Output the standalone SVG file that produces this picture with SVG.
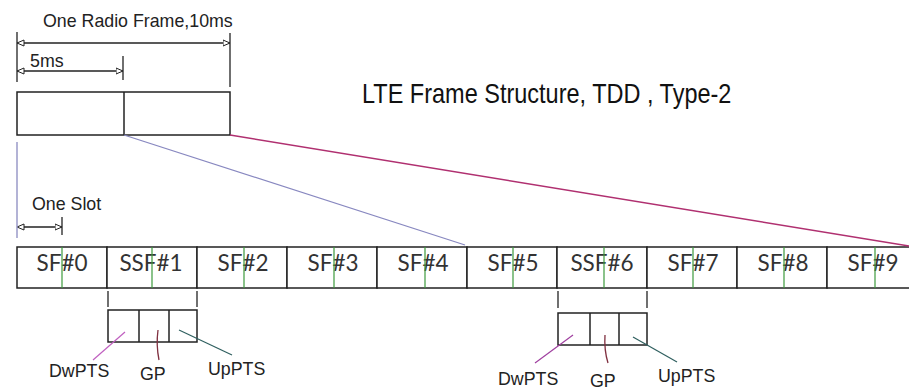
<svg xmlns="http://www.w3.org/2000/svg" width="909" height="390" viewBox="0 0 909 390">
<defs>
<marker id="ah" viewBox="0 0 8 8" refX="7.5" refY="4" markerWidth="8" markerHeight="8" markerUnits="userSpaceOnUse" orient="auto-start-reverse">
<path d="M0.5,1 L7.5,4 L0.5,7 Z" fill="#fff" stroke="#222" stroke-width="1"/>
</marker>
</defs>
<style>
.box{fill:#fff;stroke:#222;stroke-width:1.5}
.ln{stroke:#222;stroke-width:1.5;fill:none}
.tick{stroke:#222;stroke-width:1.3}
.dim{stroke:#222;stroke-width:1.3;marker-start:url(#ah);marker-end:url(#ah)}
.grn{stroke:#3d9a3d;stroke-width:1.2}
.sf{font-family:Lato,"Noto Sans",sans-serif;font-size:22.5px;fill:#333;text-anchor:middle}
.lbl{font-family:"Liberation Sans",Arial,sans-serif;font-size:17.8px;fill:#222}
.title{font-family:"Liberation Sans",Arial,sans-serif;font-size:23.5px;fill:#111}
</style>
<rect width="909" height="390" fill="#fff"/>

<g id="title"><text class="title" x="362" y="0" transform="translate(0,103) scale(1,1.15)">LTE Frame Structure, TDD , Type-2</text></g>

<g id="radio-frame">
<rect class="box" x="17" y="92" width="213" height="43"/>
<line class="ln" x1="124" y1="92" x2="124" y2="135"/>
</g>

<g id="dim-10ms">
<line class="tick" x1="17" y1="32" x2="17" y2="82"/>
<line class="tick" x1="230" y1="33" x2="230" y2="87"/>
<line class="dim" x1="17" y1="43" x2="230" y2="43"/>
<text class="lbl" x="43" y="27">One Radio Frame,10ms</text>
</g>

<g id="dim-5ms">
<line class="tick" x1="123" y1="56" x2="123" y2="80"/>
<line class="dim" x1="17" y1="71" x2="123" y2="71"/>
<text class="lbl" x="30" y="67">5ms</text>
</g>

<g id="dim-slot">
<line class="tick" x1="62" y1="217" x2="62" y2="235"/>
<line class="dim" x1="17" y1="227" x2="62" y2="227"/>
<text class="lbl" x="32" y="210">One Slot</text>
</g>

<g id="subframes">
<g id="sf0"><rect class="box" x="17" y="247" width="90" height="41"/><text class="sf" x="62" y="271">SF#0</text><line class="grn" x1="62" y1="247" x2="62" y2="288"/></g>
<g id="sf1"><rect class="box" x="107" y="247" width="90" height="41"/><text class="sf" x="151" y="271">SSF#1</text><line class="grn" x1="152" y1="247" x2="152" y2="288"/></g>
<g id="sf2"><rect class="box" x="197" y="247" width="90" height="41"/><text class="sf" x="243" y="271">SF#2</text><line class="grn" x1="244" y1="247" x2="244" y2="288"/></g>
<g id="sf3"><rect class="box" x="287" y="247" width="90" height="41"/><text class="sf" x="333" y="271">SF#3</text><line class="grn" x1="334" y1="247" x2="334" y2="288"/></g>
<g id="sf4"><rect class="box" x="377" y="247" width="90" height="41"/><text class="sf" x="423" y="271">SF#4</text><line class="grn" x1="425" y1="247" x2="425" y2="288"/></g>
<g id="sf5"><rect class="box" x="467" y="247" width="90" height="41"/><text class="sf" x="513" y="271">SF#5</text><line class="grn" x1="513" y1="247" x2="513" y2="288"/></g>
<g id="sf6"><rect class="box" x="557" y="247" width="90" height="41"/><text class="sf" x="602" y="271">SSF#6</text><line class="grn" x1="604" y1="247" x2="604" y2="288"/></g>
<g id="sf7"><rect class="box" x="647" y="247" width="90" height="41"/><text class="sf" x="693" y="271">SF#7</text><line class="grn" x1="693" y1="247" x2="693" y2="288"/></g>
<g id="sf8"><rect class="box" x="737" y="247" width="90" height="41"/><text class="sf" x="783" y="271">SF#8</text><line class="grn" x1="784" y1="247" x2="784" y2="288"/></g>
<g id="sf9"><rect class="box" x="827" y="247" width="90" height="41"/><text class="sf" x="873" y="271">SF#9</text><line class="grn" x1="875" y1="247" x2="875" y2="288"/></g>
</g>

<g id="special-sf1">
<line class="tick" x1="108" y1="291" x2="108" y2="307"/>
<line class="tick" x1="197" y1="291" x2="197" y2="307"/>
<rect class="box" x="108" y="310" width="89" height="32"/>
<line class="ln" x1="139" y1="310" x2="139" y2="342"/>
<line class="ln" x1="169" y1="310" x2="169" y2="342"/>
<text class="lbl" x="49" y="377">DwPTS</text>
<text class="lbl" x="140" y="380">GP</text>
<text class="lbl" x="208" y="375">UpPTS</text>
</g>

<g id="special-sf6">
<line class="tick" x1="558" y1="291" x2="558" y2="308"/>
<line class="tick" x1="647" y1="291" x2="647" y2="308"/>
<rect class="box" x="558" y="313" width="89" height="32"/>
<line class="ln" x1="590" y1="313" x2="590" y2="345"/>
<line class="ln" x1="619" y1="313" x2="619" y2="345"/>
<text class="lbl" x="498" y="385">DwPTS</text>
<text class="lbl" x="590" y="387">GP</text>
<text class="lbl" x="658" y="382">UpPTS</text>
</g>

<g id="connectors" fill="none">
<line x1="17" y1="142" x2="17" y2="238" stroke="#9a9ac8" stroke-width="1.5"/>
<line x1="124" y1="135" x2="465" y2="245" stroke="#8888c0" stroke-width="1.3"/>
<line x1="230" y1="135" x2="909" y2="246" stroke="#b03070" stroke-width="1.5"/>
<line x1="93" y1="360" x2="125" y2="332" stroke="#c060c0" stroke-width="1.2"/>
<path d="M158,330 Q156,345 159,360" stroke="#803040" stroke-width="1.3"/>
<line x1="179" y1="330" x2="232" y2="355" stroke="#2f5f5f" stroke-width="1.2"/>
<line x1="535" y1="363" x2="573" y2="335" stroke="#a040a0" stroke-width="1.2"/>
<path d="M605,335 Q604,350 608,363" stroke="#803040" stroke-width="1.3"/>
<line x1="633" y1="337" x2="677" y2="362" stroke="#2f5f5f" stroke-width="1.2"/>
</g>
</svg>
